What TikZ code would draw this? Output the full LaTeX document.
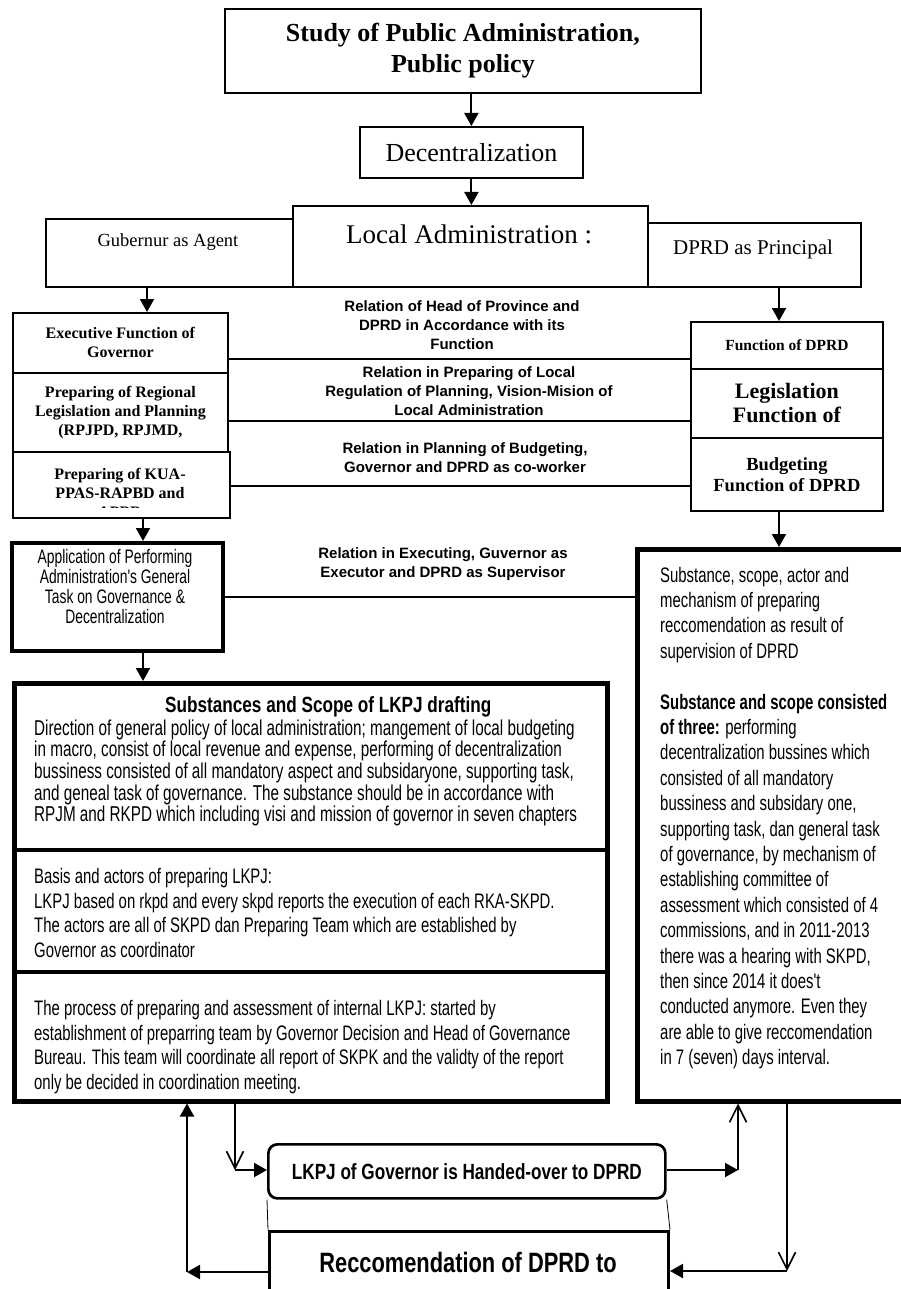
\documentclass[tikz,border=0pt]{standalone}
\usepackage{fontspec}
\setmainfont{Liberation Serif}
\newfontfamily\arialf{Liberation Sans}
\newfontfamily\agency[FakeStretch=0.71]{Liberation Sans}
\newfontfamily\agencyb[FakeStretch=0.78]{Liberation Sans}
\usetikzlibrary{arrows.meta,calc}
\begin{document}
\begin{tikzpicture}[x=1pt,y=-1pt,
  box/.style={draw,line width=1.8pt,inner sep=0pt,anchor=north west},
  heavybox/.style={draw,line width=4.5pt,inner sep=0pt,anchor=north west},
  link/.style={line width=1.8pt},
  arr/.style={line width=2pt,-{Triangle[length=13pt,width=14pt]}},
  oarr/.style={line width=1.6pt,-{Straight Barb[length=17pt,width=17pt,line width=1.6pt]}},
  txt/.style={inner sep=0pt},
  lbl/.style={inner sep=0pt,align=center,font=\arialf\bfseries\fontsize{15}{19}\selectfont},
  colb/.style={align=center,font=\bfseries\fontsize{16}{19}\selectfont},
  body/.style={inner sep=0pt,align=left,anchor=west,font=\agency\fontsize{21}{24.5}\selectfont}
]
\useasboundingbox (0,0) rectangle (901,1289);

% top
\node[box,minimum width=476pt,minimum height=84pt,align=center,font=\bfseries\fontsize{26}{31}\selectfont] (title) at (224,8) {Study of Public Administration,\\Public policy};
\node[box,minimum width=223pt,minimum height=51pt,font=\fontsize{26}{30}\selectfont] (dec) at (359,126) {Decentralization};
\node[box,minimum width=247pt,minimum height=68pt] (gub) at (45,218) {};
\node[box,minimum width=213pt,minimum height=64pt] (dprd) at (647,222) {};
\node[box,minimum width=355pt,minimum height=81pt] (la) at (292,205) {};
\node[txt,font=\fontsize{27}{30}\selectfont] (lat) at (469,234) {Local Administration :};
\node[txt,font=\fontsize{18.5}{22}\selectfont] (gubt) at (168,242) {Gubernur as Agent};
\node[txt,font=\fontsize{21}{24}\selectfont] (dprdt) at (753,249) {DPRD as Principal};

% left column
\node[box,colb,minimum width=215pt,minimum height=60pt] (exec) at (12,312) {Executive Function of\\Governor};
\node[box,colb,minimum width=215pt,minimum height=79pt] (prep) at (12,372) {Preparing of Regional\\Legislation and Planning\\(RPJPD, RPJMD,};
\node[box,minimum width=217pt,minimum height=66pt] (kua) at (12,451) {};
\begin{scope}
\clip (12,451) rectangle (229,507);
\node[txt,colb] (kuat) at (120,493) {Preparing of KUA-\\PPAS-RAPBD and\\APBD};
\end{scope}

% right column
\node[box,minimum width=192pt,minimum height=47pt,font=\bfseries\fontsize{15.5}{19}\selectfont] (fund) at (690,321) {Function of DPRD};
\node[box,minimum width=192pt,minimum height=69pt,align=center,font=\bfseries\fontsize{22}{24}\selectfont] (legis) at (690,368) {Legislation\\Function of};
\node[box,minimum width=192pt,minimum height=73pt,align=center,font=\bfseries\fontsize{18.5}{21}\selectfont] (budg) at (690,437) {Budgeting\\Function of DPRD};

% relation labels
\node[lbl] (l1) at (462,325) {Relation of Head of Province and\\DPRD in Accordance with its\\Function};
\node[lbl] (l2) at (469,391) {Relation in Preparing of Local\\Regulation of Planning, Vision-Mision of\\Local Administration};
\node[lbl] (l3) at (465,458) {Relation in Planning of Budgeting,\\Governor and DPRD as co-worker};
\node[lbl] (l4) at (443,564) {Relation in Executing, Guvernor as\\Executor and DPRD as Supervisor};

% application box
\node[heavybox,line width=4pt,minimum width=211pt,minimum height=108pt] (app) at (10,541) {};
\node[txt,align=center,font=\agency\fontsize{19.5}{20}\selectfont] (appt) at (115,587) {Application of Performing\\Administration's General\\Task on Governance \&\\Decentralization};

% right big box
\node[heavybox,minimum width=280pt,minimum height=552pt] (rb) at (635,547) {};
\node[body,font=\agency\fontsize{21}{25.4}\selectfont] (rbt) at (660,818) {Substance, scope, actor and\\mechanism of preparing\\reccomendation as result of\\supervision of DPRD\\[25.4pt]
{\bfseries Substance and scope consisted}\\{\bfseries of three:} performing\\decentralization bussines which\\consisted of all mandatory\\bussiness and subsidary one,\\supporting task, dan general task\\of governance, by mechanism of\\establishing committee of\\assessment which consisted of 4\\commissions, and in 2011-2013\\there was a hearing with SKPD,\\then since 2014 it does't\\conducted anymore. Even they\\are able to give reccomendation\\in 7 (seven) days interval.};

% left big box
\node[heavybox,minimum width=593pt,minimum height=418pt] (lb) at (12,681) {};
\coordinate (d1) at (0,850);
\coordinate (d2) at (0,972);
\draw[line width=3.5pt] (lb.west |- d1) -- (lb.east |- d1);
\draw[line width=3.5pt] (lb.west |- d2) -- (lb.east |- d2);
\node[txt,anchor=west,font=\agencyb\bfseries\fontsize{22}{25}\selectfont] (lbh) at (165,707) {Substances and Scope of LKPJ drafting};
\node[body,font=\agency\fontsize{21.5}{21.7}\selectfont] (s1) at (34,773) {Direction of general policy of local administration; mangement of local budgeting\\in macro, consist of local revenue and expense, performing of decentralization\\bussiness consisted of all mandatory aspect and subsidaryone, supporting task,\\and geneal task of governance. The substance should be in accordance with\\RPJM and RKPD which including visi and mission of governor in seven chapters};
\node[body] (s2) at (34,913) {Basis and actors of preparing LKPJ:\\LKPJ based on rkpd and every skpd reports the execution of each RKA-SKPD.\\The actors are all of SKPD dan Preparing Team which are established by\\Governor as coordinator};
\node[body] (s3) at (34,1047) {The process of preparing and assessment of internal LKPJ: started by\\establishment of preparring team by Governor Decision and Head of Governance\\Bureau. This team will coordinate all report of SKPK and the validty of the report\\only be decided in coordination meeting.};

% bottom boxes
\node[draw,line width=2.7pt,rounded corners=9pt,minimum width=397pt,minimum height=54pt,anchor=north west,inner sep=0pt,font=\agencyb\bfseries\fontsize{22}{24}\selectfont] (lkpj) at (267,1143) {LKPJ of Governor is Handed-over to DPRD};
\node[draw,line width=3pt,minimum width=399pt,minimum height=80pt,anchor=north west,inner sep=0pt] (rec) at (268,1230) {};
\node[txt,font=\agencyb\bfseries\fontsize{28}{30}\selectfont] (rect) at (468,1262) {Reccomendation of DPRD to};
\draw[line width=0.8pt] (lkpj.south west) -- (rec.north west);
\draw[line width=0.8pt] (lkpj.south east) -- (rec.north east);

% vertical arrows top
\coordinate (a1) at (147,0);
\coordinate (a2) at (779,0);
\coordinate (a3) at (143,0);
\draw[arr] (dec.north |- title.south) -- (dec.north);
\draw[arr] (dec.south) -- (la.north -| dec.south);
\draw[arr] (gub.south -| a1) -- (exec.north -| a1);
\draw[arr] (dprd.south -| a2) -- (fund.north -| a2);
\draw[arr] (kua.south -| a3) -- (app.north -| a3);
\draw[arr] (app.south -| a3) -- (lb.north -| a3);
\draw[arr] (budg.south -| a2) -- (rb.north -| a2);

% relation lines
\coordinate (r1) at (0,359);
\coordinate (r2) at (0,421);
\coordinate (r3) at (0,486);
\coordinate (r4) at (0,597);
\draw[link] (exec.east |- r1) -- (fund.west |- r1);
\draw[link] (prep.east |- r2) -- (legis.west |- r2);
\draw[link] (kua.east |- r3) -- (budg.west |- r3);
\draw[link] (app.east |- r4) -- (rb.west |- r4);

% bottom loop arrows
\coordinate (c1) at (235,1170);
\coordinate (c2) at (738,1170);
\coordinate (c3) at (787,1271);
\coordinate (c4) at (187,1272);
\draw[oarr] (lb.south -| c1) -- (c1);
\draw[arr] (c1) -- (lkpj.west |- c1);
\draw[arr] (lkpj.east |- c2) -- (c2);
\draw[oarr] (c2) -- (rb.south -| c2);
\draw[oarr] (rb.south -| c3) -- (c3);
\draw[arr] (c3) -- (rec.east |- c3);
\draw[arr] (rec.west |- c4) -- (c4);
\draw[arr] (c4) -- (lb.south -| c4);
\end{tikzpicture}
\end{document}
